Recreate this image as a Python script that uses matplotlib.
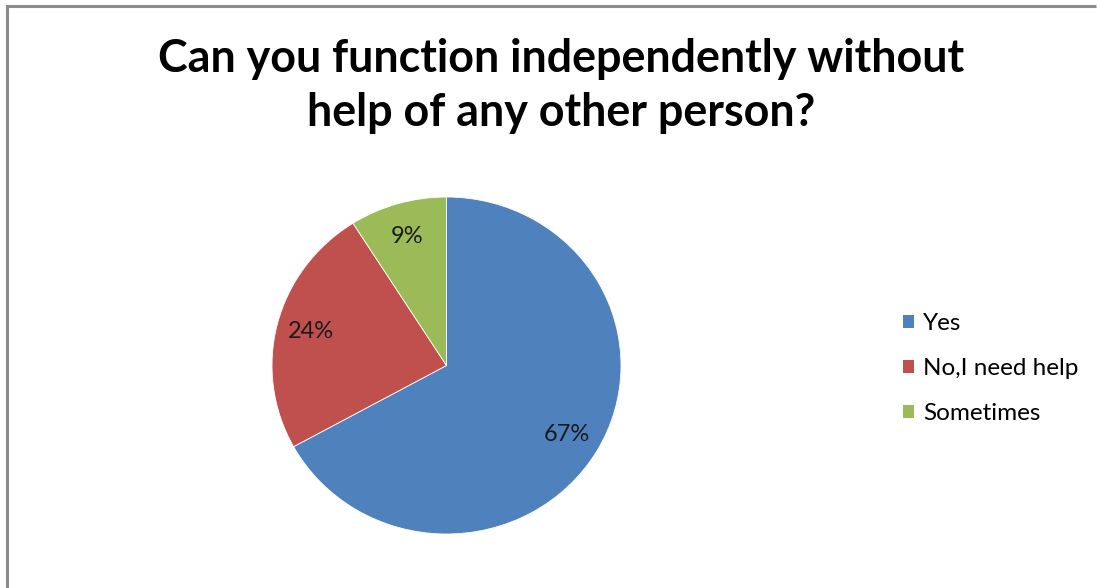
import matplotlib
matplotlib.use("Agg")
import matplotlib.pyplot as plt
from matplotlib.lines import Line2D
from matplotlib.patches import Patch

categories = ["Yes", "No,I need help", "Sometimes"]
shares = [67, 24, 9]
colors = ["#4F81BD", "#C0504D", "#9BBB59"]
title = "Can you function independently without\nhelp of any other person?"

W, H = 1098, 588
fig = plt.figure(figsize=(W / 100, H / 100), dpi=100)
fig.patch.set_facecolor("white")

# chart area frame: left and top edges as one open polyline
fx, fy = 7 / W, 1 - 6 / H
fig.add_artist(Line2D([fx, fx, 1096 / W], [0, fy, fy], transform=fig.transFigure,
                      color="#8C8C8C", linewidth=2.2,
                      solid_capstyle="butt", solid_joinstyle="miter"))

fig.text(561 / W, 1 - 86 / H, title, ha="center", va="center",
         fontsize=32.3, fontweight="bold", family="Lato", linespacing=1.38,
         color="black")

# pie axes (plot area slightly wider than tall)
left, right, top, bottom = 272, 621, 197, 534
ax = fig.add_axes([left / W, 1 - bottom / H, (right - left) / W, (bottom - top) / H])
wedges, texts, autotexts = ax.pie(
    shares, colors=colors, startangle=90, counterclock=False,
    autopct=lambda p: f"{p:.0f}%", pctdistance=0.8,
    wedgeprops=dict(linewidth=0.6, edgecolor="white"),
    textprops=dict(fontsize=17, family="Lato", color="#1a1a1a"))
ax.set_aspect("auto")
ax.set_xlim(-1, 1)
ax.set_ylim(-1, 1)
ax.axis("off")

handles = [Patch(facecolor=c, edgecolor="none") for c in colors]
fig.legend(handles, categories, loc="upper left",
           bbox_to_anchor=(893 / W, 1 - 303 / H), frameon=False,
           prop=dict(family="Lato", size=17.5), handlelength=0.45, handleheight=0.45,
           handletextpad=0.4, labelspacing=0.99, borderaxespad=0)

fig.savefig("out.png", dpi=100, facecolor="white")
